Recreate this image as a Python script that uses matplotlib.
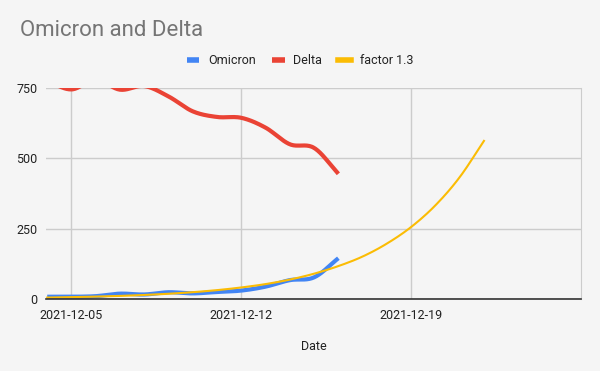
import numpy as np
import matplotlib.pyplot as plt
import matplotlib.dates as mdates
import datetime as dt

plt.rcParams['font.family'] = ['Roboto', 'DejaVu Sans']

# data (daily values)
days = [dt.date(2021, 12, d) for d in range(4, 23)]
omicron = [8, 8, 10, 19, 16, 24, 20, 25, 30, 44, 67, 77, 145]
delta = [775, 745, 780, 744, 757, 720, 667, 647, 644, 609, 550, 537, 445]
factor = [5.0, 6.5, 8.5, 11.0, 14.3, 18.6, 24.2, 31.5, 41, 53, 69, 90, 117,
          151, 197, 256, 333, 433, 562]

ticks = ['2021-12-05', '2021-12-12', '2021-12-19']


def smooth(x, y, n=20):
    # catmull-rom curve through the points, like the sheet's smooth lines
    x = np.asarray(x, float)
    y = np.asarray(y, float)
    m = np.gradient(y)
    xs, ys = [], []
    for i in range(len(x) - 1):
        t = np.linspace(0, 1, n, endpoint=False)
        h00 = 2 * t**3 - 3 * t**2 + 1
        h10 = t**3 - 2 * t**2 + t
        h01 = -2 * t**3 + 3 * t**2
        h11 = t**3 - t**2
        xs.append(x[i] + t * (x[i + 1] - x[i]))
        ys.append(h00 * y[i] + h10 * m[i] + h01 * y[i + 1] + h11 * m[i + 1])
    xs.append([x[-1]])
    ys.append([y[-1]])
    return np.concatenate(xs), np.concatenate(ys)


xd = mdates.date2num(days)

fig = plt.figure(figsize=(6, 3.71), dpi=100, facecolor='#f5f5f5')
ax = fig.add_axes([46 / 600, 1 - 299 / 371, 535 / 600, 211 / 371])
ax.set_facecolor('#f5f5f5')

x, y = smooth(xd[:len(omicron)], omicron)
ax.plot(x, y, color='#4285f4', lw=3, label='Omicron', solid_capstyle='butt')
x, y = smooth(xd[:len(delta)], delta)
ax.plot(x, y, color='#ea4335', lw=3, label='Delta', solid_capstyle='butt')
x, y = smooth(xd[:len(factor)], factor)
ax.plot(x, y, color='#fbbc04', lw=1.5, label='factor 1.3')

ax.set_ylim(0, 750)
ax.set_xlim(mdates.date2num(dt.date(2021, 12, 4)) - 0.05,
            mdates.date2num(dt.date(2021, 12, 26)))
ax.set_yticks([0, 250, 500, 750])
ax.set_xticks(mdates.date2num([dt.date.fromisoformat(t) for t in ticks]))
ax.set_xticklabels(ticks)
ax.tick_params(length=0, labelsize=9, colors='#222222', pad=7)
ax.tick_params(axis='y', pad=6)
ax.grid(True, color='#cccccc', lw=1)
ax.set_axisbelow(True)
for s in ['top', 'left']:
    ax.spines[s].set_visible(False)
ax.spines['right'].set_color('#cccccc')
ax.spines['bottom'].set_color('#333333')
ax.spines['bottom'].set_linewidth(1.2)

ax.set_xlabel('Date', fontsize=9, color='#222222', labelpad=13)

fig.text(20 / 600, 1 - 31 / 371, 'Omicron and Delta', fontsize=16,
         color='#757575', va='center', ha='left')

leg = ax.legend(loc='center', bbox_to_anchor=(300 / 600, 1 - 61 / 371),
                bbox_transform=fig.transFigure, ncol=3, frameon=False,
                fontsize=9, handlelength=1.0, handletextpad=0.7,
                columnspacing=1.3)
for h in leg.get_lines():
    h.set_linewidth(4)
for t in leg.get_texts():
    t.set_color('#222222')

fig.savefig('out.png', dpi=100, facecolor='#f5f5f5')
